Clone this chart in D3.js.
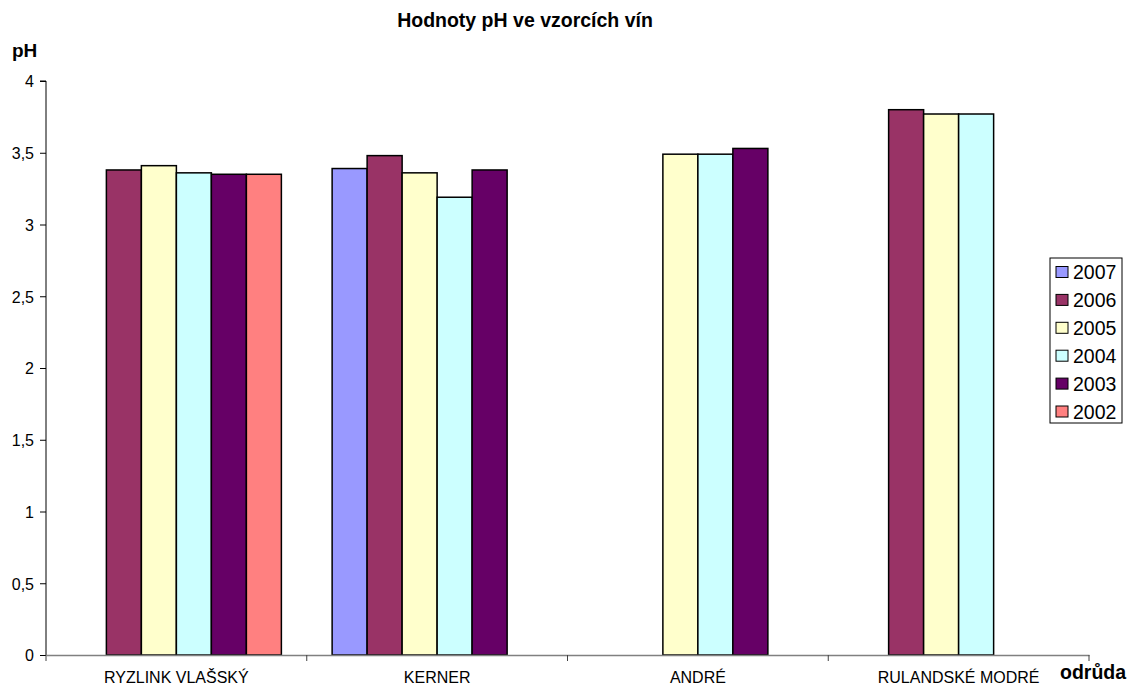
<!DOCTYPE html>
<html>
<head>
<meta charset="utf-8">
<script src="https://cdn.jsdelivr.net/npm/d3@7"></script>
<style>
  html, body { margin: 0; padding: 0; background: #fff; }
  svg { display: block; font-family: "Liberation Sans", Arial, sans-serif; }
</style>
</head>
<body>
<svg id="chart" width="1130" height="689"></svg>
<script>
// Wine varieties on the x axis
const categories = ["RYZLINK VLAŠSKÝ", "KERNER", "ANDRÉ", "RULANDSKÉ MODRÉ"];
// Vintage years (series)
const years = ["2007", "2006", "2005", "2004", "2003", "2002"];
const yearColors = ["#9999FF", "#993366", "#FFFFCC", "#CCFFFF", "#660066", "#FF8080"];
// pH per year, in category order (null = no sample)
const ph2007 = [null, 3.39, null, null];
const ph2006 = [3.38, 3.48, null, 3.80];
const ph2005 = [3.41, 3.36, 3.49, 3.77];
const ph2004 = [3.36, 3.19, 3.49, 3.77];
const ph2003 = [3.35, 3.38, 3.53, null];
const ph2002 = [3.35, null, null, null];
const yTicks = [0, 0.5, 1, 1.5, 2, 2.5, 3, 3.5, 4];

const seriesValues = [ph2007, ph2006, ph2005, ph2004, ph2003, ph2002];

const svg = d3.select("#chart");
const plot = { left: 46, right: 1089, top: 81, bottom: 655 };
const FONT = "'Liberation Sans', Arial, sans-serif";

const x = d3.scaleBand().domain(categories).range([plot.left, plot.right]).paddingInner(0).paddingOuter(0);
// six bars per group with a gap on both sides of the cluster
const inner = d3.scaleBand().domain(years).range([0, x.bandwidth()]).paddingInner(0).paddingOuter(0.725);
const y = d3.scaleLinear().domain([0, 4]).range([plot.bottom, plot.top]);

// Title and axis titles
svg.append("text").attr("x", 525).attr("y", 27).attr("text-anchor", "middle")
  .style("font-size", "19.5px").style("font-weight", "bold").text("Hodnoty pH ve vzorcích vín");
svg.append("text").attr("x", 12).attr("y", 57)
  .style("font-size", "19px").style("font-weight", "bold").text("pH");
svg.append("text").attr("x", 1060).attr("y", 679)
  .style("font-size", "19.5px").style("font-weight", "bold").text("odrůda");

// Bars
const bars = [];
seriesValues.forEach((vals, si) => {
  vals.forEach((v, ci) => {
    if (v !== null) bars.push({ year: years[si], color: yearColors[si], cat: categories[ci], value: v });
  });
});
svg.append("g").selectAll("rect").data(bars).join("rect")
  .attr("x", d => x(d.cat) + inner(d.year))
  .attr("y", d => y(d.value))
  .attr("width", inner.bandwidth())
  .attr("height", d => y(0) - y(d.value))
  .attr("fill", d => d.color)
  .attr("stroke", "#000")
  .attr("stroke-width", 1.5);

// Y axis
const yAxis = d3.axisLeft(y).tickValues(yTicks).tickSize(6)
  .tickFormat(d => String(d).replace(".", ","));
const gy = svg.append("g").attr("transform", `translate(${plot.left},0)`).call(yAxis);
gy.select(".domain").attr("stroke", "#000").attr("d", `M-6,${plot.top}H0V${plot.bottom}`);
gy.selectAll(".tick line").attr("stroke", "#000");
gy.selectAll(".tick text").attr("x", -12).attr("dy", "0.36em")
  .style("font-size", "16px").style("font-family", FONT).attr("fill", "#000");

// X axis
const xAxis = d3.axisBottom(x).tickSize(0).tickSizeOuter(0);
const gx = svg.append("g").attr("transform", `translate(0,${plot.bottom})`).call(xAxis);
gx.select(".domain").attr("stroke", "#808080").attr("stroke-width", 1.5);
gx.selectAll(".tick text").attr("y", 28).attr("dy", 0)
  .style("font-size", "16px").style("font-family", FONT).attr("fill", "#000");
// category separators
const seps = categories.map(c => x(c)).concat([plot.right]);
gx.selectAll(".sep").data(seps).join("line").attr("class", "sep")
  .attr("x1", d => d).attr("x2", d => d).attr("y1", 0).attr("y2", 6)
  .attr("stroke", "#404040").attr("stroke-width", 1);

// Legend
const lg = svg.append("g").attr("transform", "translate(1050,258)");
lg.append("rect").attr("width", 72).attr("height", 165).attr("fill", "#fff").attr("stroke", "#000").attr("stroke-width", 1);
const items = lg.selectAll("g.item").data(years).join("g").attr("class", "item")
  .attr("transform", (d, i) => `translate(6,${14 + i * 27.9})`);
items.append("rect").attr("x", 0).attr("y", -5.5).attr("width", 12).attr("height", 11)
  .attr("fill", (d, i) => yearColors[i]).attr("stroke", "#000").attr("stroke-width", 1);
items.append("text").attr("x", 17).attr("y", 7).style("font-size", "19.5px").text(d => d);
</script>
</body>
</html>
